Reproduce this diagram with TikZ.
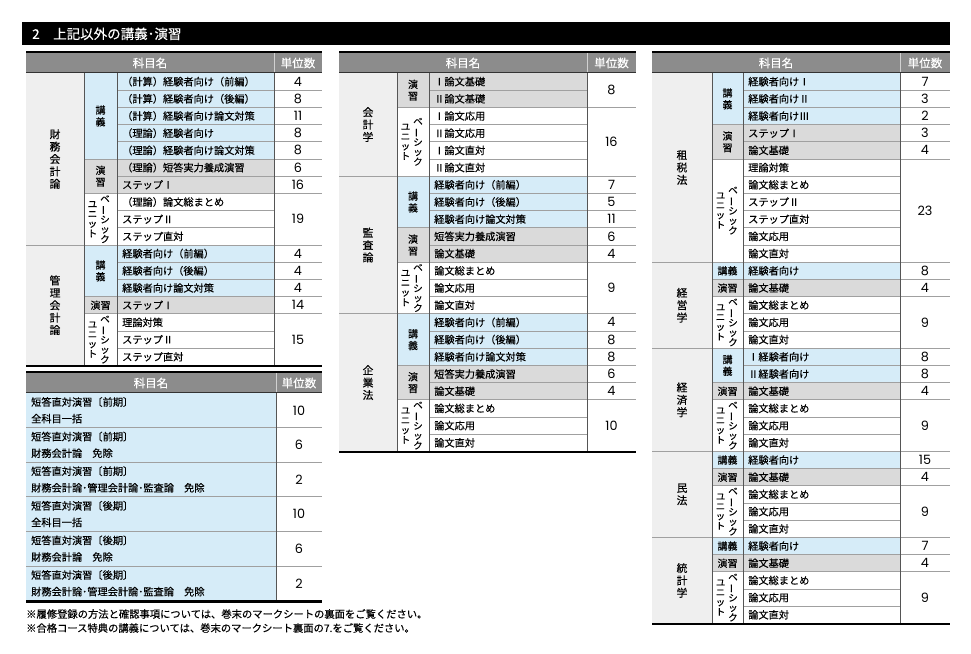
\documentclass[tikz,border=0pt]{standalone}
\usepackage{fontspec}
\setmainfont{Noto Sans CJK JP}[FakeBold=0.3]
\newfontfamily\numfont{Poppins}
\definecolor{hdr}{RGB}{140,140,140}
\definecolor{subj}{RGB}{239,239,239}
\definecolor{blu}{RGB}{214,236,248}
\definecolor{gry}{RGB}{218,218,218}
\definecolor{sepc}{RGB}{160,160,160}
\definecolor{vln}{RGB}{85,85,85}
\tikzset{
 itemtxt/.style={anchor=west, inner sep=0, font=\fontsize{10.2}{12}\selectfont},
 unittxt/.style={inner sep=0, font=\numfont\fontsize{12.8}{14}\selectfont},
 vtxt/.style={inner sep=0, align=center, font=\fontsize{10}{11.8}\selectfont},
 btxt/.style={inner sep=0, align=center, font=\fontsize{9.5}{9.8}\selectfont},
 subtxt/.style={inner sep=0, align=center, font=\fontsize{10.8}{12.4}\selectfont},
 sepline/.style={draw=sepc, line width=0.9pt},
 vline/.style={draw=vln, line width=0.7pt},
 hdrtxt/.style={text=white, inner sep=0, font=\fontsize{11.5}{12}\selectfont},
 notetxt/.style={anchor=west, inner sep=0, font=\fontsize{10.3}{12}\selectfont},
}
\newcommand\choon{\rotatebox[origin=c]{90}{ー}}
\newcommand\Rh{17.2}
\newcommand\RY[1]{\Ty+(#1)*\Rh}
\newcommand\Head{%
 \fill[hdr] ({\Ta},{\Ty-19.6}) rectangle ({\Te},{\Ty-0.5});
 \draw[black,line width=2.4pt] ({\Ta},{\Ty-20.8}) -- ({\Te},{\Ty-20.8});
 \draw[black!80,line width=0.8pt] ({\Ta},{\Ty-0.4}) -- ({\Te},{\Ty-0.4});
 \draw[hdr!40!white, line width=0.6pt] ({\Td},{\Ty-19.6}) -- ({\Td},{\Ty-0.8});
 \node[hdrtxt] (\Tn-h1) at ({(\Ta+\Td)/2},{\Ty-10}) {科目名};
 \node[hdrtxt] (\Tn-h2) at ({(\Td+\Te)/2},{\Ty-10}) {単位数};}
\newcommand\Itm[3]{%
 \fill[#2] ({\Tc},{\RY{#1}}) rectangle ({\Td},{\RY{#1+1}});
 \node[itemtxt] (\Tn-i#1) at ({\Tc+5},{\RY{#1+0.5}}) {#3};}
\newcommand\Unit[3]{%
 \node[unittxt] (\Tn-u#1) at ({(\Td+\Te)/2},{\RY{#1+#2/2}}) {#3};}
\newcommand\Cat[4]{%
 \fill[#3] ({\Tb},{\RY{#1}}) rectangle ({\Tc},{\RY{#1+#2}});
 \node[vtxt] (\Tn-c#1) at ({(\Tb+\Tc)/2},{\RY{#1+#2/2}}) {#4};}
\newcommand\Basic[2]{%
 \node[btxt] (\Tn-b#1) at ({\Tb+21},{\RY{#1+#2/2}}) {ベ\\\choon\\シ\\ッ\\ク};
 \node[btxt] (\Tn-bb#1) at ({\Tb+8.5},{\RY{#1+#2/2}}) {ユ\\ニ\\ッ\\ト};}
\newcommand\Subj[3]{%
 \fill[subj] ({\Ta},{\RY{#1}}) rectangle ({\Tb},{\RY{#1+#2}});
 \node[subtxt] (\Tn-s#1) at ({(\Ta+\Tb)/2},{\RY{#1+#2/2}}) {#3};}
\newcommand\Sep[3]{\draw[sepline] ({#1},{\RY{#3}}) -- ({#2},{\RY{#3}});}
\newcommand\Vl[1]{%
 \draw[vline] ({\Tb},{\Ty}) -- ({\Tb},{\RY{#1}});
 \draw[vline] ({\Tc},{\Ty}) -- ({\Tc},{\RY{#1}});
 \draw[vline] ({\Td},{\Ty}) -- ({\Td},{\RY{#1}});}
\newcommand\Bottom[1]{\draw[black,line width=2.2pt] ({\Ta},{\RY{#1}+0.8}) -- ({\Te},{\RY{#1}+0.8});}
\begin{document}
\begin{tikzpicture}[x=1pt,y=-1pt]
\fill[white] (0,0) rectangle (971,653);
\useasboundingbox (0,0) rectangle (971,653);
% title
\fill[black] (22,22) rectangle (950,45);
\node[text=white, anchor=west, inner sep=0, font=\fontsize{13.5}{14}\selectfont] (title) at (32,33.8) {2\hspace{1em}上記以外の講義･演習};
%%%%%%%%%%%%%%%% left table
\def\Tn{L}\def\Ta{26}\def\Tb{84}\def\Tc{117}\def\Td{274}\def\Te{322}\def\Ty{73}
\Head
\Subj{0}{10}{財\\務\\会\\計\\論}
\Subj{10}{7}{管\\理\\会\\計\\論}
\Cat{0}{5}{blu}{講\\義}
\Cat{5}{2}{gry}{演\\習}
\Basic{7}{3}
\Cat{10}{3}{blu}{講\\義}
\Cat{13}{1}{gry}{演習}
\Basic{14}{3}
\Itm{0}{blu}{（計算）経験者向け（前編）}
\Itm{1}{blu}{（計算）経験者向け（後編）}
\Itm{2}{blu}{（計算）経験者向け論文対策}
\Itm{3}{blu}{（理論）経験者向け}
\Itm{4}{blu}{（理論）経験者向け論文対策}
\Itm{5}{gry}{（理論）短答実力養成演習}
\Itm{6}{gry}{ステップⅠ}
\Itm{7}{white}{（理論）論文総まとめ}
\Itm{8}{white}{ステップⅡ}
\Itm{9}{white}{ステップ直対}
\Itm{10}{blu}{経験者向け（前編）}
\Itm{11}{blu}{経験者向け（後編）}
\Itm{12}{blu}{経験者向け論文対策}
\Itm{13}{gry}{ステップⅠ}
\Itm{14}{white}{理論対策}
\Itm{15}{white}{ステップⅡ}
\Itm{16}{white}{ステップ直対}
\Unit{0}{1}{4}\Unit{1}{1}{8}\Unit{2}{1}{11}\Unit{3}{1}{8}\Unit{4}{1}{8}
\Unit{5}{1}{6}\Unit{6}{1}{16}\Unit{7}{3}{19}
\Unit{10}{1}{4}\Unit{11}{1}{4}\Unit{12}{1}{4}\Unit{13}{1}{14}\Unit{14}{3}{15}
\foreach \k in {1,2,3,4,6,11,12} {\Sep{\Tc}{\Te}{\k}}
\foreach \k in {5,7,13,14} {\Sep{\Tb}{\Te}{\k}}
\foreach \k in {8,9,15,16} {\Sep{\Tc}{\Td}{\k}}
\Sep{\Ta}{\Te}{10}
\Vl{17}
\Bottom{17}
%%%%%%%%%%%%%%%% middle table
\def\Tn{M}\def\Ta{339}\def\Tb{397}\def\Tc{429}\def\Td{587}\def\Te{636}\def\Ty{73}
\Head
\Subj{0}{6}{会\\計\\学}
\Subj{6}{8}{監\\査\\論}
\Subj{14}{8}{企\\業\\法}
\Cat{0}{2}{gry}{演\\習}
\Basic{2}{4}
\Cat{6}{3}{blu}{講\\義}
\Cat{9}{2}{gry}{演\\習}
\Basic{11}{3}
\Cat{14}{3}{blu}{講\\義}
\Cat{17}{2}{gry}{演\\習}
\Basic{19}{3}
\Itm{0}{gry}{Ⅰ論文基礎}
\Itm{1}{gry}{Ⅱ論文基礎}
\Itm{2}{white}{Ⅰ論文応用}
\Itm{3}{white}{Ⅱ論文応用}
\Itm{4}{white}{Ⅰ論文直対}
\Itm{5}{white}{Ⅱ論文直対}
\Itm{6}{blu}{経験者向け（前編）}
\Itm{7}{blu}{経験者向け（後編）}
\Itm{8}{blu}{経験者向け論文対策}
\Itm{9}{gry}{短答実力養成演習}
\Itm{10}{gry}{論文基礎}
\Itm{11}{white}{論文総まとめ}
\Itm{12}{white}{論文応用}
\Itm{13}{white}{論文直対}
\Itm{14}{blu}{経験者向け（前編）}
\Itm{15}{blu}{経験者向け（後編）}
\Itm{16}{blu}{経験者向け論文対策}
\Itm{17}{gry}{短答実力養成演習}
\Itm{18}{gry}{論文基礎}
\Itm{19}{white}{論文総まとめ}
\Itm{20}{white}{論文応用}
\Itm{21}{white}{論文直対}
\Unit{0}{2}{8}\Unit{2}{4}{16}
\Unit{6}{1}{7}\Unit{7}{1}{5}\Unit{8}{1}{11}\Unit{9}{1}{6}\Unit{10}{1}{4}\Unit{11}{3}{9}
\Unit{14}{1}{4}\Unit{15}{1}{8}\Unit{16}{1}{8}\Unit{17}{1}{6}\Unit{18}{1}{4}\Unit{19}{3}{10}
\foreach \k in {1,3,4,5,12,13,20,21} {\Sep{\Tc}{\Td}{\k}}
\foreach \k in {2,9,11,17,19} {\Sep{\Tb}{\Te}{\k}}
\foreach \k in {7,8,10,15,16,18} {\Sep{\Tc}{\Te}{\k}}
\foreach \k in {6,14} {\Sep{\Ta}{\Te}{\k}}
\Vl{22}
\Bottom{22}
%%%%%%%%%%%%%%%% right table
\def\Tn{R}\def\Ta{652}\def\Tb{712}\def\Tc{743}\def\Td{900}\def\Te{950}\def\Ty{73}
\Head
\Subj{0}{11}{租\\税\\法}
\Subj{11}{5}{経\\営\\学}
\Subj{16}{6}{経\\済\\学}
\Subj{22}{5}{民\\法}
\Subj{27}{5}{統\\計\\学}
\Cat{0}{3}{blu}{講\\義}
\Cat{3}{2}{gry}{演\\習}
\Basic{5}{6}
\Cat{11}{1}{blu}{講義}
\Cat{12}{1}{gry}{演習}
\Basic{13}{3}
\Cat{16}{2}{blu}{講\\義}
\Cat{18}{1}{gry}{演習}
\Basic{19}{3}
\Cat{22}{1}{blu}{講義}
\Cat{23}{1}{gry}{演習}
\Basic{24}{3}
\Cat{27}{1}{blu}{講義}
\Cat{28}{1}{gry}{演習}
\Basic{29}{3}
\Itm{0}{blu}{経験者向けⅠ}
\Itm{1}{blu}{経験者向けⅡ}
\Itm{2}{blu}{経験者向けⅢ}
\Itm{3}{gry}{ステップⅠ}
\Itm{4}{gry}{論文基礎}
\Itm{5}{white}{理論対策}
\Itm{6}{white}{論文総まとめ}
\Itm{7}{white}{ステップⅡ}
\Itm{8}{white}{ステップ直対}
\Itm{9}{white}{論文応用}
\Itm{10}{white}{論文直対}
\Itm{11}{blu}{経験者向け}
\Itm{12}{gry}{論文基礎}
\Itm{13}{white}{論文総まとめ}
\Itm{14}{white}{論文応用}
\Itm{15}{white}{論文直対}
\Itm{16}{blu}{Ⅰ経験者向け}
\Itm{17}{blu}{Ⅱ経験者向け}
\Itm{18}{gry}{論文基礎}
\Itm{19}{white}{論文総まとめ}
\Itm{20}{white}{論文応用}
\Itm{21}{white}{論文直対}
\Itm{22}{blu}{経験者向け}
\Itm{23}{gry}{論文基礎}
\Itm{24}{white}{論文総まとめ}
\Itm{25}{white}{論文応用}
\Itm{26}{white}{論文直対}
\Itm{27}{blu}{経験者向け}
\Itm{28}{gry}{論文基礎}
\Itm{29}{white}{論文総まとめ}
\Itm{30}{white}{論文応用}
\Itm{31}{white}{論文直対}
\Unit{0}{1}{7}\Unit{1}{1}{3}\Unit{2}{1}{2}\Unit{3}{1}{3}\Unit{4}{1}{4}\Unit{5}{6}{23}
\Unit{11}{1}{8}\Unit{12}{1}{4}\Unit{13}{3}{9}
\Unit{16}{1}{8}\Unit{17}{1}{8}\Unit{18}{1}{4}\Unit{19}{3}{9}
\Unit{22}{1}{15}\Unit{23}{1}{4}\Unit{24}{3}{9}
\Unit{27}{1}{7}\Unit{28}{1}{4}\Unit{29}{3}{9}
\foreach \k in {1,2,4,17} {\Sep{\Tc}{\Te}{\k}}
\foreach \k in {3,5,12,13,18,19,23,24,28,29} {\Sep{\Tb}{\Te}{\k}}
\foreach \k in {6,7,8,9,10,14,15,20,21,25,26,30,31} {\Sep{\Tc}{\Td}{\k}}
\foreach \k in {11,16,22,27} {\Sep{\Ta}{\Te}{\k}}
\Vl{32}
\Bottom{32}
%%%%%%%%%%%%%%%% lower-left table
\def\Tn{S}\def\Ta{26}\def\Td{276}\def\Te{322}\def\Ty{393}
\renewcommand\Rh{34.6}
\Head
\foreach \k/\a/\b/\v in {0/短答直対演習〔前期〕/全科目一括/10,
  1/短答直対演習〔前期〕/財務会計論　免除/6,
  2/短答直対演習〔前期〕/財務会計論･管理会計論･監査論　免除/2,
  3/短答直対演習〔後期〕/全科目一括/10,
  4/短答直対演習〔後期〕/財務会計論　免除/6,
  5/短答直対演習〔後期〕/財務会計論･管理会計論･監査論　免除/2} {
  \fill[blu] ({\Ta},{\RY{\k}}) rectangle ({\Td},{\RY{\k+1}});
  \node[itemtxt] (S-a\k) at ({\Ta+5},{\RY{\k+0.5}-8.3}) {\a};
  \node[itemtxt] (S-b\k) at ({\Ta+5},{\RY{\k+0.5}+8.3}) {\b};
  \node[unittxt] (S-u\k) at ({(\Td+\Te)/2},{\RY{\k+0.5}}) {\v};
}
\foreach \k in {1,...,5} {\Sep{\Ta}{\Te}{\k}}
\draw[vline] ({\Td},{\Ty}) -- ({\Td},{\RY{6}});
\Bottom{6}
% footnotes
\node[notetxt] (fn1) at (26,614) {※履修登録の方法と確認事項については、巻末のマークシートの裏面をご覧ください。};
\node[notetxt] (fn2) at (26,628) {※合格コース特典の講義については、巻末のマークシート裏面の7.をご覧ください。};
\end{tikzpicture}
\end{document}
